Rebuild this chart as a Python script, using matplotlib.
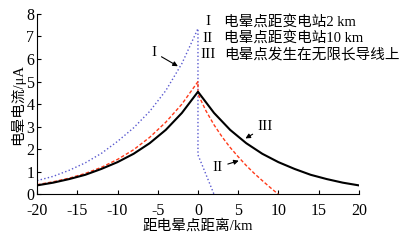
import matplotlib
matplotlib.use("Agg")
import matplotlib.pyplot as plt

plt.rcParams['font.family'] = ['Liberation Serif', 'Noto Sans CJK SC']
plt.rcParams['axes.unicode_minus'] = False

# curve I: corona point 2 km from substation
x1 = [-20, -18, -16, -14, -12, -10, -8, -6, -4, -2, 0, 0, 0.5, 1, 1.5, 2]
y1 = [0.61, 0.8, 1.07, 1.4, 1.82, 2.35, 2.95, 3.68, 4.6, 5.8, 7.35, 1.75, 1.32, 0.88, 0.44, 0]

# curve II: corona point 10 km from substation
x2 = [-20, -18, -16, -14, -12, -10, -8, -6, -4, -2, 0, 0, 1, 2, 3, 4, 5, 6, 7, 8, 9, 10]
y2 = [0.43, 0.56, 0.72, 0.93, 1.2, 1.55, 1.98, 2.53, 3.2, 4.0, 5.0,
      4.45, 3.7, 3.08, 2.55, 2.08, 1.67, 1.28, 0.93, 0.61, 0.3, 0]

# curve III: infinite line
x3 = [-20, -18, -16, -14, -12, -10, -8, -6, -4, -2, 0, 2, 4, 6, 8, 10, 12, 14, 16, 18, 20]
y3 = [0.4, 0.52, 0.68, 0.87, 1.13, 1.43, 1.8, 2.27, 2.86, 3.61, 4.55,
      3.61, 2.86, 2.27, 1.8, 1.43, 1.13, 0.87, 0.68, 0.52, 0.4]

legend_lines = ["电晕点距变电站2 km", "电晕点距变电站10 km", "电晕点发生在无限长导线上"]
numerals = ["I", "II", "III"]

fig = plt.figure(figsize=(4.12, 2.40), dpi=100)
ax = fig.add_axes([0.09, 0.19, 0.781, 0.752])

ax.plot(x1, y1, color="#5a5ad0", ls=":", lw=1.0)
ax.plot(x2, y2, color="#ff3a1a", ls="--", lw=1.0, dashes=(2.5, 1.5))
ax.plot(x3, y3, color="black", lw=1.5)

ax.set_xlim(-20, 20)
ax.set_ylim(0, 8)
ax.set_xticks(range(-20, 21, 5))
ax.set_yticks(range(0, 9))
ax.tick_params(direction="in", labelsize=11.5, length=3, pad=2)
ax.tick_params(axis="x", pad=6)
ax.spines["top"].set_visible(False)
ax.spines["right"].set_visible(False)

ax.set_xlabel("距电晕点距离/km", fontsize=10.5, labelpad=0)
ax.set_ylabel("电晕电流/μA", fontsize=10.5, labelpad=1)

for i, (num, txt) in enumerate(zip(numerals, legend_lines)):
    yy = 7.65 - i * 0.72
    ax.text(1.2, yy, num, fontsize=11, ha="center", va="center")
    ax.text(3.2, yy, txt, fontsize=10.5, ha="left", va="center")

arr = dict(arrowstyle="-|>", color="black", lw=0.8, mutation_scale=7)
ax.annotate("I", xy=(-2.2, 5.62), xytext=(-5.5, 6.3), fontsize=11,
            ha="center", va="center", arrowprops=arr)
ax.annotate("II", xy=(5.4, 1.53), xytext=(2.4, 1.2), fontsize=11,
            ha="center", va="center", arrowprops=arr)
ax.annotate("III", xy=(5.6, 2.42), xytext=(8.4, 3.0), fontsize=11,
            ha="center", va="center", arrowprops=arr)

fig.savefig("out.png", dpi=100)
